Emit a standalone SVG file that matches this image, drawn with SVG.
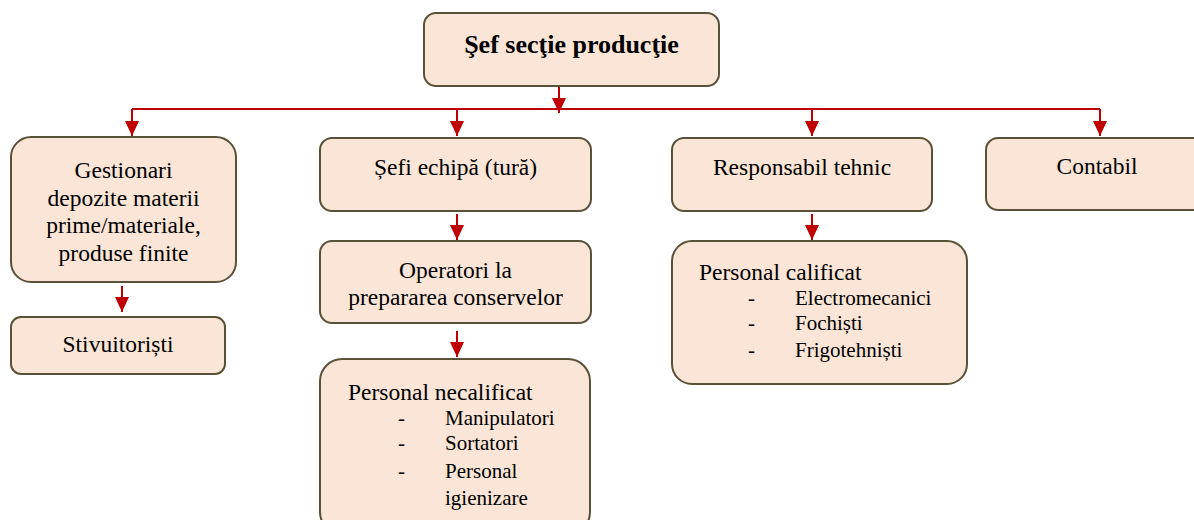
<svg xmlns="http://www.w3.org/2000/svg" width="1194" height="520" viewBox="0 0 1194 520">
<style>
.box{fill:#FBE5D6;stroke:#5A5238;stroke-width:2}
.t{font-family:"Liberation Serif","Times New Roman",serif;font-size:23.5px;fill:#000}
.c{text-anchor:middle}
.s{font-size:21px}
.b{font-weight:bold;font-size:26px}
.conn{fill:none;stroke:#C00000;stroke-width:2}
</style>
<defs>
<marker id="ah" markerUnits="userSpaceOnUse" markerWidth="16" markerHeight="15" refX="15" refY="7" orient="auto">
<path d="M0,0 L15,7 L0,14 z" fill="#C00000"/>
</marker>
</defs>
<rect width="1194" height="520" fill="#fff"/>
<g id="connectors" class="conn">
<path d="M559,86 V113" marker-end="url(#ah)"/>
<path d="M132,109 H1100"/>
<path d="M132,109 V136" marker-end="url(#ah)"/>
<path d="M457,109 V136" marker-end="url(#ah)"/>
<path d="M812,109 V136" marker-end="url(#ah)"/>
<path d="M1100,109 V136" marker-end="url(#ah)"/>
<path d="M122,286 V312" marker-end="url(#ah)"/>
<path d="M457,214 V240" marker-end="url(#ah)"/>
<path d="M457,331 V357" marker-end="url(#ah)"/>
<path d="M812,214 V240" marker-end="url(#ah)"/>
</g>
<g id="sef">
<rect class="box" x="424" y="13" width="295" height="73" rx="12"/>
<text class="t c b" x="571.5" y="53">Şef secţie producţie</text>
</g>
<g id="gestionari">
<rect class="box" x="11" y="137" width="225" height="145" rx="20"/>
<text class="t c" x="123.5" y="178">Gestionari</text>
<text class="t c" x="123.5" y="205.5">depozite materii</text>
<text class="t c" x="123.5" y="233">prime/materiale,</text>
<text class="t c" x="123.5" y="260.5">produse finite</text>
</g>
<g id="stivuitoristi">
<rect class="box" x="11" y="317" width="214" height="57" rx="10"/>
<text class="t c" x="118" y="352">Stivuitoriști</text>
</g>
<g id="sefi-echipa">
<rect class="box" x="320" y="138" width="271" height="73" rx="12"/>
<text class="t c" x="455.5" y="175">Șefi echipă (tură)</text>
</g>
<g id="operatori">
<rect class="box" x="320" y="241" width="271" height="82" rx="12"/>
<text class="t c" x="455.5" y="278">Operatori la</text>
<text class="t c" x="455.5" y="305">prepararea conservelor</text>
</g>
<g id="necalificat">
<rect class="box" x="320" y="359" width="270" height="175" rx="22"/>
<text class="t" x="348" y="400">Personal necalificat</text>
<text class="t s" x="398" y="425">-</text>
<text class="t s" x="445" y="425">Manipulatori</text>
<text class="t s" x="398" y="450">-</text>
<text class="t s" x="445" y="450">Sortatori</text>
<text class="t s" x="398" y="478">-</text>
<text class="t s" x="445" y="478">Personal</text>
<text class="t s" x="445" y="505">igienizare</text>
</g>
<g id="responsabil">
<rect class="box" x="672" y="138" width="260" height="73" rx="12"/>
<text class="t c" x="802" y="175">Responsabil tehnic</text>
</g>
<g id="calificat">
<rect class="box" x="672" y="241" width="295" height="143" rx="20"/>
<text class="t" x="699" y="280">Personal calificat</text>
<text class="t s" x="748" y="305">-</text>
<text class="t s" x="795" y="305">Electromecanici</text>
<text class="t s" x="748" y="330">-</text>
<text class="t s" x="795" y="330">Fochiști</text>
<text class="t s" x="748" y="357">-</text>
<text class="t s" x="795" y="357">Frigotehniști</text>
</g>
<g id="contabil">
<rect class="box" x="986" y="138" width="222" height="72" rx="12"/>
<text class="t c" x="1097" y="174">Contabil</text>
</g>
</svg>
